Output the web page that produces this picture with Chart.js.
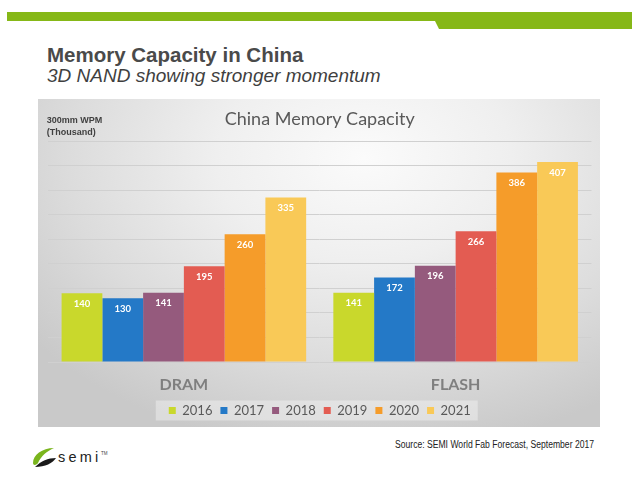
<!DOCTYPE html>
<html>
<head>
<meta charset="utf-8">
<script src="https://cdn.jsdelivr.net/npm/chart.js@4.4.1/dist/chart.umd.min.js"></script>
<style>
  body { margin: 0; width: 640px; height: 493px; background: #fff; position: relative; overflow: hidden; }
  #deco { position: absolute; left: 0; top: 0; }
  #panel {
    position: absolute; left: 38px; top: 99px; width: 562px; height: 328px;
    background: radial-gradient(ellipse 75% 90% at 58% 18%, #fbfbfb 0%, #efefef 35%, #dcdcdc 70%, #c9c9c9 100%);
  }
</style>
</head>
<body>
<svg id="deco" width="640" height="493" xmlns="http://www.w3.org/2000/svg">
  <polygon points="7,12 632,12 632,29 439,29 435,21 7,21" fill="#86b817"/>
  <text x="47" y="62" font-family="Liberation Sans, Arial, sans-serif" font-size="20.5" font-weight="bold" fill="#4a4a4a">Memory Capacity in China</text>
  <text x="47" y="82" font-family="Liberation Sans, Arial, sans-serif" font-size="19" font-style="italic" fill="#3f3f3f">3D NAND showing stronger momentum</text>
  <text x="395" y="447.5" textLength="199" lengthAdjust="spacingAndGlyphs" font-family="Liberation Sans, Arial, sans-serif" font-size="10" fill="#222">Source: SEMI World Fab Forecast, September 2017</text>
  <!-- semi logo -->
  <path d="M33,463 C33,455 42,448 54,448 C47,451 41,456 38,463 C37,465 33,466 33,463 Z" fill="#7ab51d"/>
  <path d="M35,467 C41,461 48,458 56,458 C53,463 45,467 35,467 Z" fill="#1a1a1a"/>
  <text x="58" y="462" font-family="Liberation Sans, Arial, sans-serif" font-size="14.5" letter-spacing="3.2" fill="#222">semi</text>
  <text x="101" y="455" font-family="Liberation Sans, Arial, sans-serif" font-size="4.5" fill="#444">TM</text>
</svg>
<div id="panel"><canvas id="memChart" width="562" height="328"></canvas></div>
<script>
// Capacidad de memoria en China (miles de obleas 300mm por mes)
const categories = ['DRAM', 'FLASH'];
const years = ['2016', '2017', '2018', '2019', '2020', '2021'];
const dramValues = [140, 130, 141, 195, 260, 335];
const flashValues = [141, 172, 196, 266, 386, 407];
const yMax = 450;
const yStep = 50;

const yearColors = ['#c9d82c', '#2479c7', '#955a7d', '#e35c52', '#f59c2a', '#f9c957'];

// Etiquetas blancas dentro de cada barra
const valueLabels = {
  id: 'valueLabels',
  afterDatasetsDraw(chart) {
    const ctx = chart.ctx;
    ctx.save();
    ctx.fillStyle = '#ffffff';
    ctx.font = 'bold 9.5px Lato';
    ctx.textAlign = 'center';
    ctx.textBaseline = 'middle';
    chart.data.datasets.forEach((ds, i) => {
      chart.getDatasetMeta(i).data.forEach((bar, j) => {
        ctx.fillText(ds.data[j], bar.x, bar.y + 10.5);
      });
    });
    ctx.restore();
  }
};

// Texto del eje Y arriba a la izquierda
const yCaption = {
  id: 'yCaption',
  afterDraw(chart) {
    const ctx = chart.ctx;
    ctx.save();
    ctx.fillStyle = '#404040';
    ctx.font = 'bold 9px "Liberation Sans"';
    ctx.textAlign = 'left';
    ctx.textBaseline = 'alphabetic';
    ctx.fillText('300mm WPM', 8.7, 24);
    ctx.fillText('(Thousand)', 8.7, 35.5);
    ctx.restore();
  }
};

// Fondo claro detrás de la leyenda
const legendBg = {
  id: 'legendBg',
  beforeDraw(chart) {
    const boxes = chart.legend && chart.legend.legendHitBoxes;
    if (!boxes || !boxes.length) return;
    const first = boxes[0];
    const last = boxes[boxes.length - 1];
    const cy = first.top + first.height / 2;
    const ctx = chart.ctx;
    ctx.save();
    ctx.fillStyle = 'rgba(255,255,255,0.35)';
    ctx.fillRect(first.left - 13, cy - 10, last.left + last.width - first.left + 20, 20);
    ctx.restore();
  }
};

const ctxBar = document.getElementById('memChart').getContext('2d');
const memChart = new Chart(ctxBar, {
  type: 'bar',
  data: {
    labels: categories,
    datasets: years.map((y, i) => ({
      label: y,
      data: [dramValues[i], flashValues[i]],
      backgroundColor: yearColors[i],
      borderWidth: 0,
      categoryPercentage: 0.9,
      barPercentage: 1.0
    }))
  },
  options: {
    responsive: false,
    animation: false,
    layout: { padding: { left: 10, right: 8.5, top: 0, bottom: 0 } },
    scales: {
      x: {
        grid: { display: false, drawTicks: false },
        border: { display: false },
        ticks: { color: '#7f7f7f', font: { family: 'Lato', size: 16, weight: 'bold' }, padding: 13 },
        afterFit: s => { s.height = 34; }
      },
      y: {
        min: 0,
        max: yMax,
        ticks: { display: false, stepSize: yStep },
        grid: { color: '#d0d0d0', drawTicks: false },
        border: { display: false },
        afterFit: s => { s.width = 0; }
      }
    },
    plugins: {
      title: {
        display: true,
        text: 'China Memory Capacity',
        color: '#595959',
        font: { family: 'Lato', size: 18, weight: 'normal' },
        padding: { top: 9.7, bottom: 10.7 }
      },
      legend: {
        position: 'bottom',
        labels: {
          boxWidth: 7,
          boxHeight: 7,
          padding: 8,
          color: '#595959',
          font: { family: 'Lato', size: 13 }
        }
      },
      tooltip: { enabled: false }
    }
  },
  plugins: [legendBg, valueLabels, yCaption]
});
</script>
</body>
</html>
